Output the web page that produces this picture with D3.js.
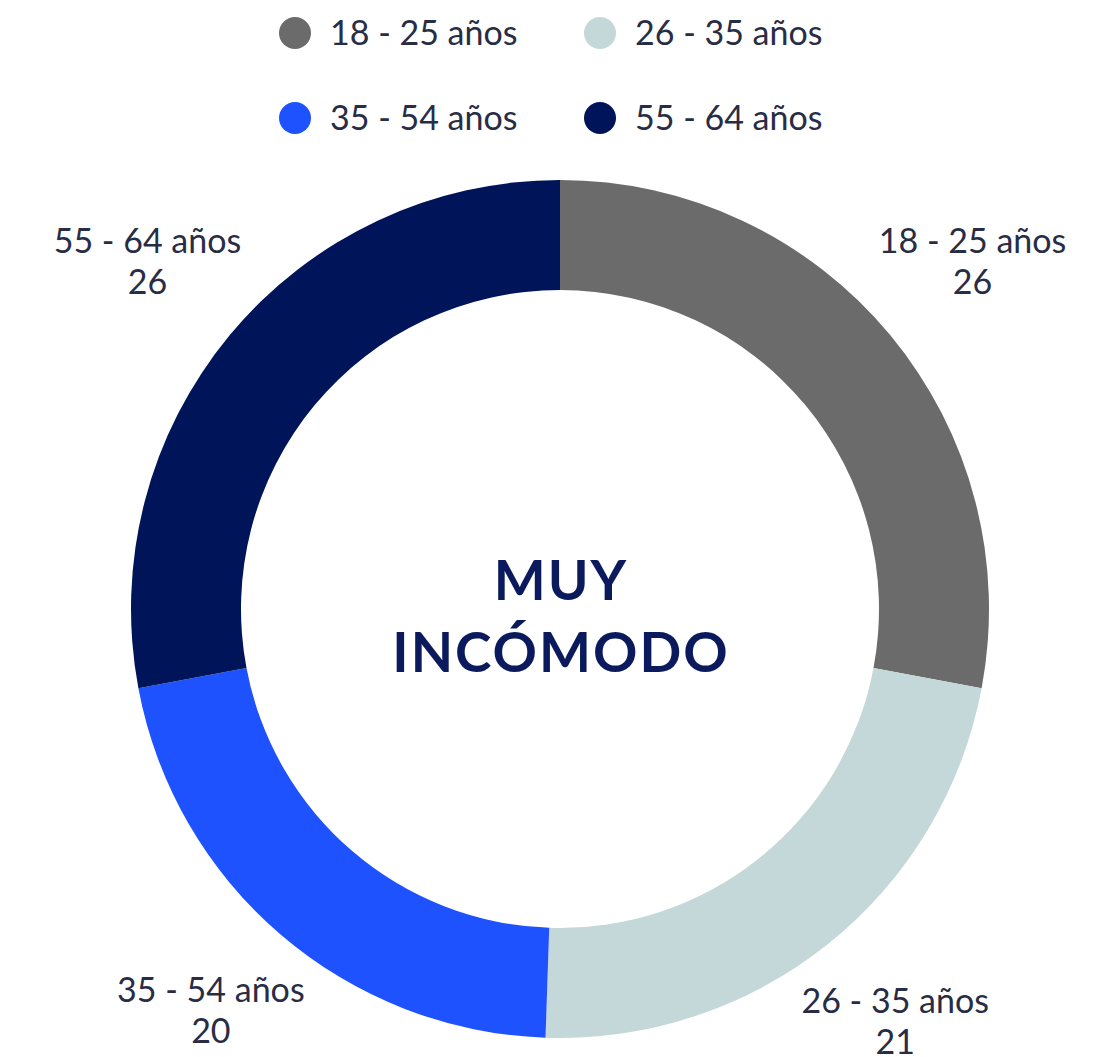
<!DOCTYPE html>
<html>
<head>
<meta charset="utf-8">
<script src="https://cdn.jsdelivr.net/npm/d3@7"></script>
<style>
  body { margin: 0; background: #fff; }
  svg text { font-family: Lato, "Open Sans", sans-serif; }
</style>
</head>
<body>
<svg id="chart"></svg>
<script>
// data
const categories = ['18 - 25 años', '26 - 35 años', '35 - 54 años', '55 - 64 años'];
const values = [26, 21, 20, 26];
const colors = ['#6b6b6b', '#c4d7d9', '#1f52ff', '#00145a'];
const centerLines = ['MUY', 'INCÓMODO'];

const width = 1112, height = 1057;
const cx = 560, cy = 609;
const outerR = 429, innerR = 319, labelR = 536;

const svg = d3.select('#chart')
    .attr('width', width)
    .attr('height', height);

const data = categories.map((c, i) => ({ key: c, value: values[i] }));

const color = d3.scaleOrdinal()
    .domain(categories)
    .range(colors);

const pie = d3.pie()
    .sort(null)
    .value(d => d.value);

const arc = d3.arc()
    .innerRadius(innerR)
    .outerRadius(outerR);

const labelArc = d3.arc()
    .innerRadius(labelR)
    .outerRadius(labelR);

const chart = svg.append('g')
    .attr('transform', `translate(${cx},${cy})`);

const arcs = pie(data);

chart.selectAll('path')
    .data(arcs)
    .enter().append('path')
    .attr('d', arc)
    .attr('fill', d => color(d.data.key));

// slice labels, two lines each
const labels = chart.selectAll('.slice-label')
    .data(arcs)
    .enter().append('text')
    .attr('class', 'slice-label')
    .attr('transform', d => `translate(${labelArc.centroid(d)})`)
    .attr('text-anchor', 'middle')
    .style('font-size', '34px')
    .attr('fill', '#282d45');

labels.append('tspan')
    .attr('x', 0)
    .attr('y', -14)
    .text(d => d.data.key);

labels.append('tspan')
    .attr('x', 0)
    .attr('y', 27)
    .text(d => d.data.value);

// center title
chart.append('text')
    .attr('text-anchor', 'middle')
    .attr('fill', '#0b1a5c')
    .style('font-size', '55px')
    .style('font-weight', 'bold')
    .style('letter-spacing', '2px')
    .selectAll('tspan')
    .data(centerLines)
    .enter().append('tspan')
    .attr('x', 1)
    .attr('y', (d, i) => -9 + i * 72)
    .text(d => d);

// legend, 2 x 2
const legendX = d3.scalePoint().domain([0, 1]).range([295, 600]);
const legendY = d3.scalePoint().domain([0, 1]).range([33, 118]);

const legend = svg.append('g').attr('class', 'legend')
    .selectAll('g')
    .data(data)
    .enter().append('g')
    .attr('transform', (d, i) => `translate(${legendX(i % 2)},${legendY(Math.floor(i / 2))})`);

legend.append('circle')
    .attr('r', 16)
    .attr('fill', d => color(d.key));

legend.append('text')
    .attr('x', 35)
    .attr('dy', '0.35em')
    .style('font-size', '34px')
    .attr('fill', '#282d45')
    .text(d => d.key);
</script>
</body>
</html>
